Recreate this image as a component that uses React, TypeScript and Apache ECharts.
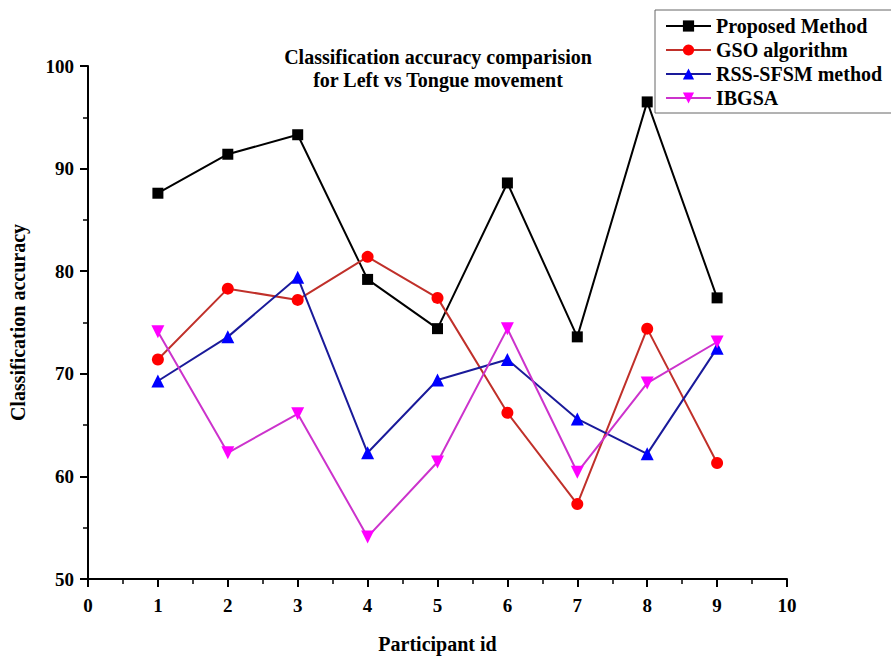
import React, { useEffect, useRef } from "react";
import * as echarts from "echarts";

const participants = [1, 2, 3, 4, 5, 6, 7, 8, 9];
const proposed = [87.6, 91.4, 93.3, 79.2, 74.4, 88.6, 73.6, 96.5, 77.4];
const gso = [71.4, 78.3, 77.2, 81.4, 77.4, 66.2, 57.3, 74.4, 61.3];
const rss = [69.3, 73.6, 79.4, 62.3, 69.4, 71.4, 65.6, 62.2, 72.5];
const ibgsa = [74.1, 62.3, 66.1, 54.1, 61.4, 74.4, 60.4, 69.1, 73.1];
const seriesNames = ["Proposed Method", "GSO algorithm", "RSS-SFSM method", "IBGSA"];
const titleText = "Classification accuracy comparision\nfor Left vs Tongue movement";

const FONT = "'Liberation Serif', 'Times New Roman', serif";

function pairs(vals: number[]) {
  return participants.map((p, i) => [p, vals[i]]);
}

export default function App() {
  const ref = useRef<HTMLDivElement>(null);
  useEffect(() => {
    if (!ref.current) return;
    const chart = echarts.init(ref.current, undefined, { renderer: "svg" });
    const axisCommon = {
      type: "value" as const,
      axisLine: { show: true, lineStyle: { color: "#000", width: 2 } },
      axisTick: { show: true, length: 8, lineStyle: { color: "#000", width: 2 } },
      minorTick: { show: true, splitNumber: 2, length: 5, lineStyle: { color: "#000", width: 1.5 } },
      splitLine: { show: false },
      nameLocation: "middle" as const,
      nameTextStyle: { fontFamily: FONT, fontWeight: "bold", fontSize: 20, color: "#000" },
    };
    chart.setOption({
      animation: false,
      backgroundColor: "#fff",
      title: {
        text: titleText,
        left: 433,
        top: 40,
        textAlign: "center",
        textStyle: { fontFamily: FONT, fontWeight: "bold", fontSize: 20, lineHeight: 23, color: "#000" },
      },
      legend: {
        orient: "vertical",
        left: 655,
        top: 10,
        padding: [6, 10, 5, 10],
        itemWidth: 45,
        itemHeight: 14,
        itemGap: 4,
        borderColor: "#666",
        borderWidth: 1,
        data: seriesNames,
        textStyle: { fontFamily: FONT, fontWeight: "bold", fontSize: 20, lineHeight: 20, color: "#000" },
      },
      grid: { left: 88, right: 104, top: 66, bottom: 76 },
      xAxis: {
        ...axisCommon,
        min: 0,
        max: 10,
        interval: 1,
        name: "Participant id",
        nameGap: 55,
        axisLabel: { margin: 17, fontFamily: FONT, fontWeight: "bold", fontSize: 19, color: "#000" },
      },
      yAxis: {
        ...axisCommon,
        min: 50,
        max: 100,
        interval: 10,
        name: "Classification accuracy",
        nameGap: 60,
        axisLabel: { margin: 14, fontFamily: FONT, fontWeight: "bold", fontSize: 19, color: "#000" },
      },
      series: [
        {
          name: seriesNames[0],
          type: "line",
          data: pairs(proposed),
          symbol: "rect",
          symbolSize: 11,
          lineStyle: { color: "#000", width: 2 },
          itemStyle: { color: "#000" },
        },
        {
          name: seriesNames[1],
          type: "line",
          data: pairs(gso),
          symbol: "circle",
          symbolSize: 12,
          lineStyle: { color: "#c0302a", width: 2 },
          itemStyle: { color: "#ff0000" },
        },
        {
          name: seriesNames[2],
          type: "line",
          data: pairs(rss),
          symbol: "triangle",
          symbolSize: 13,
          lineStyle: { color: "#1a1a9a", width: 2 },
          itemStyle: { color: "#0000ff" },
        },
        {
          name: seriesNames[3],
          type: "line",
          data: pairs(ibgsa),
          symbol: "path://M0,0 L10,0 L5,9 Z",
          symbolSize: 13,
          lineStyle: { color: "#cc33cc", width: 2 },
          itemStyle: { color: "#ff00ff" },
        },
      ],
    });
    return () => chart.dispose();
  }, []);
  return (
    <div
      ref={ref}
      style={{ position: "fixed", left: 0, top: 0, width: 891, height: 659, background: "#fff" }}
    />
  );
}
